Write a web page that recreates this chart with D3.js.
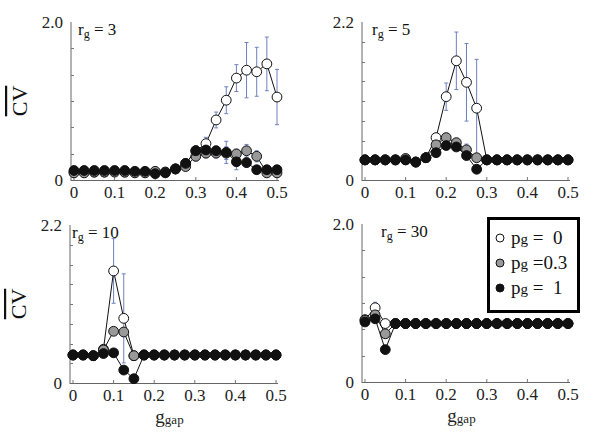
<!DOCTYPE html>
<html>
<head>
<meta charset="utf-8">
<script src="https://cdn.jsdelivr.net/npm/d3@7"></script>
<style>
  body { margin: 0; background: #fff; }
  svg text { font-family: "Liberation Serif", "Times New Roman", serif; }
  .err { stroke: #6f80be; stroke-width: 1; }
  .ln { fill: none; stroke: #111; stroke-width: 1; }
</style>
</head>
<body>
<svg id="chart" width="601" height="438"></svg>
<script>
// g_gap values (x)
const gaps = [0, 0.025, 0.05, 0.075, 0.1, 0.125, 0.15, 0.175, 0.2, 0.225, 0.25,
  0.275, 0.3, 0.325, 0.35, 0.375, 0.4, 0.425, 0.45, 0.475, 0.5];
const xTicks = [0, 0.1, 0.2, 0.3, 0.4, 0.5];
const pgLabels = ["0", "0.3", "1"];
const rgLabels = ["3", "5", "10", "30"];
const yMax = [2.0, 2.2, 2.2, 2.0];

// r_g = 3
const r3White = [0.10,0.10,0.10,0.10,0.11,0.10,0.10,0.10,0.10,0.10,0.14,0.21,0.37,0.46,0.76,1.01,1.29,1.39,1.37,1.47,1.05];
const r3WhiteErr = [0.03,0.05,0.02,0.02,0.02,0.02,0.02,0.02,0.03,0.02,0.03,0.04,0.06,0.08,0.10,0.17,0.17,0.35,0.31,0.34,0.35];
const r3Gray = [0.09,0.09,0.10,0.10,0.10,0.10,0.09,0.09,0.11,0.10,0.14,0.17,0.30,0.34,0.34,0.34,0.33,0.37,0.30,0.09,0.09];
const r3GrayErr = [0.02,0.02,0.02,0.02,0.02,0.02,0.02,0.02,0.03,0.02,0.03,0.03,0.06,0.06,0.06,0.08,0.06,0.08,0.07,0.04,0.04];
const r3Black = [0.12,0.12,0.12,0.12,0.12,0.12,0.11,0.11,0.08,0.09,0.14,0.21,0.37,0.38,0.37,0.35,0.23,0.22,0.13,0.13,0.13];
const r3BlackErr = [0.02,0.02,0.02,0.02,0.02,0.02,0.02,0.02,0.02,0.02,0.03,0.03,0.06,0.06,0.06,0.14,0.10,0.06,0.04,0.03,0.03];

// r_g = 5
const r5White = [0.28,0.28,0.28,0.28,0.28,0.25,0.31,0.59,1.16,1.66,1.36,1.00,0.28,0.28,0.28,0.28,0.28,0.28,0.28,0.28,0.28];
const r5WhiteErr = [0,0,0,0,0,0,0,0.05,0.19,0.40,0.54,0.68,0,0,0,0,0,0,0,0,0];
const r5Gray = [0.28,0.28,0.28,0.28,0.30,0.25,0.31,0.49,0.59,0.52,0.42,0.31,0.28,0.28,0.28,0.28,0.28,0.28,0.28,0.28,0.28];
const r5GrayErr = [0,0,0,0,0,0,0,0.03,0.06,0.06,0.08,0.05,0,0,0,0,0,0,0,0,0];
const r5Black = [0.28,0.28,0.28,0.28,0.28,0.25,0.31,0.38,0.48,0.46,0.34,0.15,0.28,0.28,0.28,0.28,0.28,0.28,0.28,0.28,0.28];
const r5BlackErr = [0,0,0,0,0,0,0,0.02,0.03,0.03,0.04,0.03,0,0,0,0,0,0,0,0,0];

// r_g = 10
const r10White = [0.39,0.39,0.38,0.47,1.56,0.90,0.38,0.39,0.39,0.39,0.39,0.39,0.39,0.39,0.39,0.39,0.39,0.39,0.39,0.39,0.39];
const r10WhiteErr = [0,0,0,0.03,0.45,0.62,0,0,0,0,0,0,0,0,0,0,0,0,0,0,0];
const r10Gray = [0.39,0.39,0.38,0.46,0.72,0.71,0.38,0.39,0.39,0.39,0.39,0.39,0.39,0.39,0.39,0.39,0.39,0.39,0.39,0.39,0.39];
const r10GrayErr = [0,0,0,0.02,0.05,0.05,0,0,0,0,0,0,0,0,0,0,0,0,0,0,0];
const r10Black = [0.39,0.39,0.38,0.41,0.42,0.18,0.06,0.39,0.39,0.39,0.39,0.39,0.39,0.39,0.39,0.39,0.39,0.39,0.39,0.39,0.39];
const r10BlackErr = [0,0,0,0.02,0.03,0.03,0.02,0,0,0,0,0,0,0,0,0,0,0,0,0,0];

// r_g = 30
const r30White = [0.79,0.94,0.74,0.74,0.74,0.74,0.74,0.74,0.74,0.74,0.74,0.74,0.74,0.74,0.74,0.74,0.74,0.74,0.74,0.74,0.74];
const r30WhiteErr = [0.02,0.07,0.05,0,0,0,0,0,0,0,0,0,0,0,0,0,0,0,0,0,0];
const r30Gray = [0.78,0.85,0.61,0.74,0.74,0.74,0.74,0.74,0.74,0.74,0.74,0.74,0.74,0.74,0.74,0.74,0.74,0.74,0.74,0.74,0.74];
const r30GrayErr = [0.02,0.04,0.04,0,0,0,0,0,0,0,0,0,0,0,0,0,0,0,0,0,0];
const r30Black = [0.76,0.80,0.41,0.74,0.74,0.74,0.74,0.74,0.74,0.74,0.74,0.74,0.74,0.74,0.74,0.74,0.74,0.74,0.74,0.74,0.74];
const r30BlackErr = [0.02,0.03,0.05,0,0,0,0,0,0,0,0,0,0,0,0,0,0,0,0,0,0];

const fills = ["#ffffff", "#999999", "#111111"];

const panels = [
  { rg: rgLabels[0], ymax: yMax[0], x0: 74, y0: 22, lx: 7, series: [[r3White, r3WhiteErr], [r3Gray, r3GrayErr], [r3Black, r3BlackErr]] },
  { rg: rgLabels[1], ymax: yMax[1], x0: 365, y0: 22, lx: 10, series: [[r5White, r5WhiteErr], [r5Gray, r5GrayErr], [r5Black, r5BlackErr]] },
  { rg: rgLabels[2], ymax: yMax[2], x0: 73, y0: 225, lx: 2, series: [[r10White, r10WhiteErr], [r10Gray, r10GrayErr], [r10Black, r10BlackErr]] },
  { rg: rgLabels[3], ymax: yMax[3], x0: 365, y0: 224, lx: 19, series: [[r30White, r30WhiteErr], [r30Gray, r30GrayErr], [r30Black, r30BlackErr]] }
];

const W = 203, H = 158;
const svg = d3.select("#chart");

panels.forEach((p, pi) => {
  const g = svg.append("g").attr("transform", `translate(${p.x0},${p.y0})`);
  const x = d3.scaleLinear().domain([0, 0.5]).range([0, W]);
  const y = d3.scaleLinear().domain([0, p.ymax]).range([H, 0]);
  const ax = -3;

  // axes
  g.append("line").attr("x1", ax).attr("x2", ax).attr("y1", 0).attr("y2", H + 1)
    .attr("stroke", "#666").attr("stroke-width", 1);
  g.append("line").attr("x1", ax).attr("x2", W + 2).attr("y1", H + 0.5).attr("y2", H + 0.5)
    .attr("stroke", "#666").attr("stroke-width", 1);

  const nMinor = p.ymax === 2.0 ? 6 : 8;
  const yMinor = d3.range(1, nMinor).map(i => p.ymax * i / nMinor);
  g.selectAll(".ytk").data(yMinor).join("line")
    .attr("x1", ax).attr("x2", ax + 3)
    .attr("y1", d => Math.round(y(d)) + 0.5).attr("y2", d => Math.round(y(d)) + 0.5)
    .attr("stroke", "#777");

  g.selectAll(".xtk").data(xTicks).join("line")
    .attr("x1", d => x(d)).attr("x2", d => x(d))
    .attr("y1", H).attr("y2", H - 3).attr("stroke", "#777");

  g.selectAll(".xl").data(xTicks).join("text")
    .attr("x", d => x(d)).attr("y", H + 18)
    .attr("text-anchor", "middle").attr("font-size", 17).attr("fill", "#222")
    .text(d => d === 0 ? "0" : d.toFixed(1));

  g.selectAll(".yl").data([0, p.ymax]).join("text")
    .attr("x", ax - 8).attr("y", d => y(d) + 6)
    .attr("text-anchor", "end").attr("font-size", 17).attr("fill", "#222")
    .text(d => d === 0 ? "0" : d.toFixed(1));

  // r_g label
  const rl = g.append("text").attr("x", ax + p.lx).attr("y", 13).attr("font-size", 17).attr("fill", "#111");
  rl.append("tspan").text("r");
  rl.append("tspan").attr("dy", 3).attr("font-size", 12).text("g");
  rl.append("tspan").attr("dy", -3).text(" = " + p.rg);

  // error bars
  p.series.forEach(([vals, errs]) => {
    const pts = gaps.map((gv, i) => ({ gv, v: vals[i], e: errs[i] })).filter(d => d.e > 0);
    const eb = g.append("g");
    eb.selectAll(".v").data(pts).join("line").attr("class", "err")
      .attr("x1", d => x(d.gv)).attr("x2", d => x(d.gv))
      .attr("y1", d => y(d.v - d.e)).attr("y2", d => y(d.v + d.e));
    [-1, 1].forEach(s => {
      eb.selectAll(".c" + s).data(pts).join("line").attr("class", "err")
        .attr("x1", d => x(d.gv) - 2).attr("x2", d => x(d.gv) + 2)
        .attr("y1", d => y(d.v + s * d.e)).attr("y2", d => y(d.v + s * d.e));
    });
  });

  // lines + markers
  const line = d3.line().x(d => x(d[0])).y(d => y(d[1]));
  p.series.forEach(([vals], si) => {
    const data = gaps.map((gv, i) => [gv, vals[i]]);
    g.append("path").attr("class", "ln").attr("d", line(data));
    g.append("g").selectAll("circle").data(data).join("circle")
      .attr("cx", d => x(d[0])).attr("cy", d => y(d[1])).attr("r", 4.9)
      .attr("fill", fills[si]).attr("stroke", "#111").attr("stroke-width", 1);
  });

  // y label on left column
  if (pi % 2 === 0) {
    svg.append("text")
      .attr("transform", `translate(${p.x0 - 47},${p.y0 + H / 2}) rotate(-90)`)
      .attr("text-anchor", "middle").attr("font-size", 22).attr("fill", "#111")
      .style("text-decoration", "overline")
      .text("CV");
  }
  // x label on bottom row
  if (pi >= 2) {
    const xl = svg.append("text").attr("x", p.x0 + W / 2 - 5).attr("y", p.y0 + H + 40)
      .attr("text-anchor", "middle").attr("font-size", 19).attr("fill", "#222");
    xl.append("tspan").text("g");
    xl.append("tspan").attr("dy", 1).attr("font-size", 13).text("gap");
  }
});

// legend
const lg = svg.append("g").attr("transform", "translate(487,217)");
lg.append("rect").attr("x", 1.5).attr("y", 1.5).attr("width", 90).attr("height", 93)
  .attr("fill", "#fff").attr("stroke", "#000").attr("stroke-width", 3);
const rows = lg.selectAll(".row").data(pgLabels).join("g")
  .attr("transform", (d, i) => `translate(0,${21 + i * 25})`);
rows.append("circle").attr("cx", 13).attr("cy", 0).attr("r", 4)
  .attr("fill", (d, i) => fills[i]).attr("stroke", "#111").attr("stroke-width", 1);
const lt = rows.append("text").attr("x", 24).attr("y", 6).attr("font-size", 19).attr("fill", "#111")
  .attr("xml:space", "preserve");
lt.append("tspan").text("p");
lt.append("tspan").attr("font-size", 15).text("g");
lt.append("tspan").text(d => d === "0.3" ? " =0.3" : " =  " + d);
</script>
</body>
</html>
